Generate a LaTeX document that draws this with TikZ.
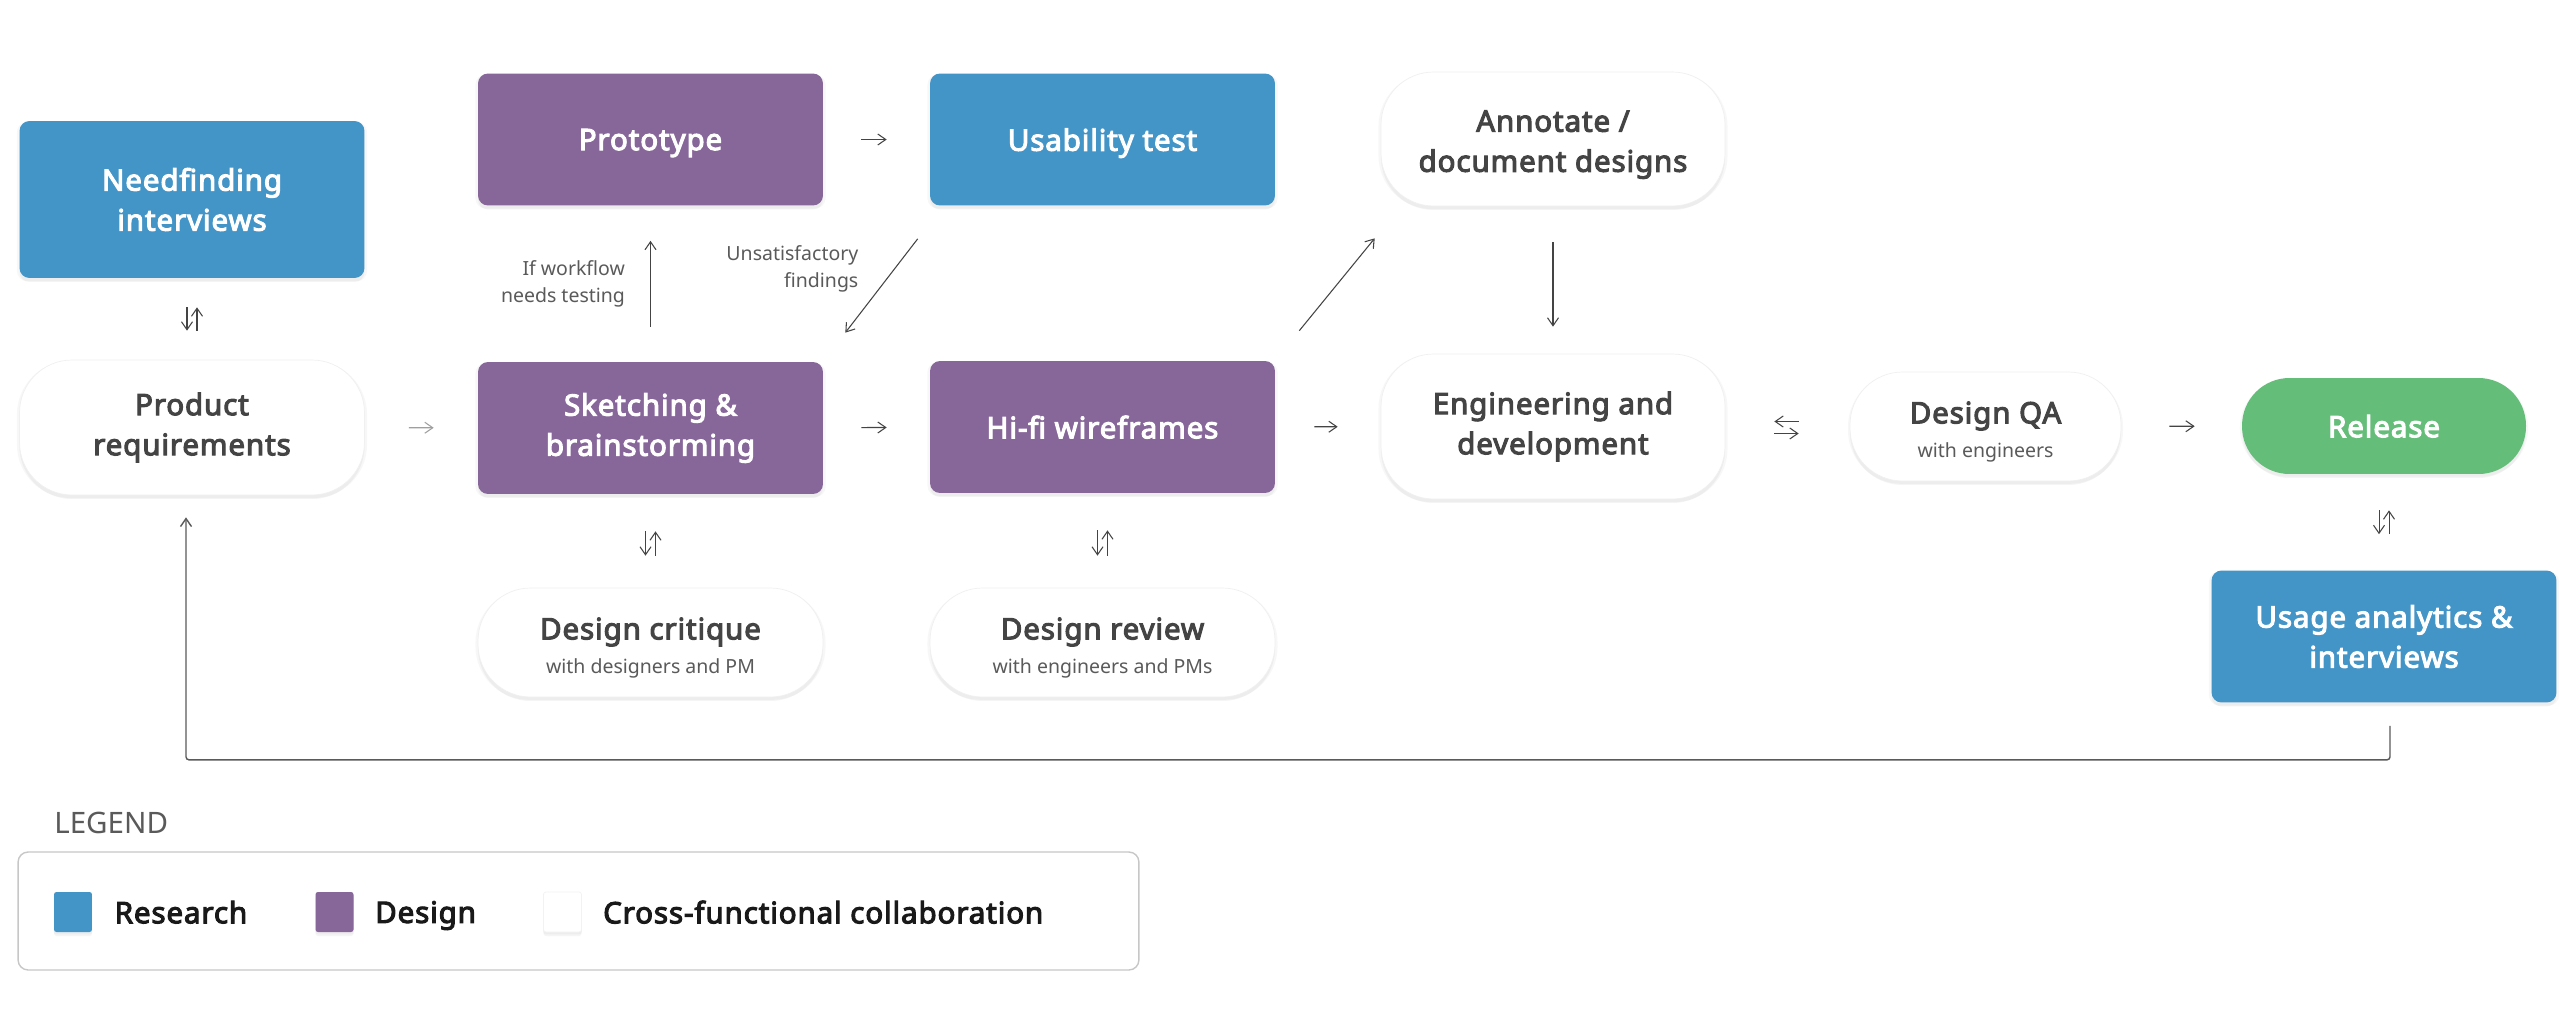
\documentclass[tikz,border=0pt]{standalone}
\usepackage{fontspec}
\setmainfont{Noto Sans}[BoldFont={Noto Sans}, BoldFeatures={FakeBold=3.6, LetterSpace=3}]
\usetikzlibrary{arrows.meta, calc, positioning, shadows}
\definecolor{figR}{RGB}{67,148,199}
\definecolor{figD}{RGB}{135,102,153}
\definecolor{figG}{RGB}{100,189,120}
\definecolor{figT}{RGB}{68,68,68}
\definecolor{figN}{RGB}{90,90,90}
\newcommand{\ttlfont}{\fontsize{16.8}{22.8}\selectfont\bfseries}
\newcommand{\subfont}{\fontsize{11.1}{15}\selectfont\mdseries\color{figN}}
\newcommand{\lowstrut}{\rule{0pt}{18.5pt}}
\tikzset{
  soft shadow/.style={drop shadow={opacity=0.06, shadow xshift=0cm, shadow yshift=-0.04cm, shadow scale=1.015},
    drop shadow={opacity=0.08, shadow xshift=0cm, shadow yshift=-0.08cm}},
  box/.style={rectangle, minimum width=6.9cm, minimum height=2.64cm, align=center, inner sep=0pt,
    font=\ttlfont, text=white, rounded corners=0.2cm, soft shadow},
  oneline/.style={text depth=0pt},
  research/.style={box, fill=figR},
  design/.style={box, fill=figD},
  collab/.style={box, fill=white, draw=black!6, text=figT, rounded corners=1.05cm},
  flow/.style={draw=figT, line width=0.6pt, -{Straight Barb[length=1.6mm, width=2.2mm]}},
  note/.style={font=\fontsize{11.1}{15.4}\selectfont, text=figN, align=right, inner sep=0pt},
  swatch/.style={rectangle, minimum width=0.76cm, minimum height=0.8cm, inner sep=0pt, rounded corners=0.05cm, soft shadow},
  legtext/.style={font=\ttlfont, text=black!90, inner sep=0pt, anchor=west, text depth=0pt}
}

\begin{document}
\begin{tikzpicture}[x=0.02cm, y=-0.02cm]
\path[fill=white, use as bounding box] (0,0) rectangle (2576,1028);
% first column: research and requirements
\node[research, minimum height=3.14cm] (need) at (192,199.5) {Needfinding\\interviews};
\node[collab, minimum height=2.7cm] (prod) at (192,427.5) {Product\\requirements};
% design loop
\node[design, oneline] (proto) at (650.5,139.5) {Prototype};
\node[research, oneline] (usab) at (1102.5,139.5) {Usability test};
\node[design] (sketch) at (650.5,428) {Sketching \&\\brainstorming};
\node[design, oneline] (hifi) at (1102.5,427) {Hi-fi wireframes};
\node[collab, minimum height=2.18cm] (crit) at (650.5,642.5) {\lowstrut Design critique\\[-3.4pt]{\subfont with designers and PM}};
\node[collab, minimum height=2.18cm] (review) at (1102.5,642.5) {\lowstrut Design review\\[-3.4pt]{\subfont with engineers and PMs}};
% build and ship
\node[collab, minimum width=6.88cm, minimum height=2.68cm] (annot) at (1553,139) {\lowstrut Annotate /\\document designs};
\node[collab, minimum width=6.88cm, minimum height=2.9cm] (eng) at (1553,426.5) {Engineering and\\development};
\node[collab, minimum width=5.42cm, minimum height=2.18cm] (qa) at (1985.5,426.5) {\lowstrut Design QA\\[-3.4pt]{\subfont with engineers}};
\node[box, oneline, fill=figG, minimum width=5.68cm, minimum height=1.92cm, rounded corners=0.95cm] (release) at (2384,426) {Release};
\node[research] (usage) at (2384,636.5) {Usage analytics \&\\interviews};
% straight flow
\draw[flow, draw=gray!75, shorten <=0.88cm, shorten >=0.88cm] (prod) -- (sketch);
\draw[flow, shorten <=0.76cm, shorten >=0.86cm] (sketch) -- (hifi);
\draw[flow, shorten <=0.76cm, shorten >=0.86cm] (proto) -- (usab);
\draw[flow, shorten <=0.78cm, shorten >=0.86cm] (hifi) -- (eng);
\draw[flow, shorten <=0.96cm, shorten >=0.94cm] (qa) -- (release);
\draw[flow, shorten <=0.7cm, shorten >=0.7cm] (sketch.north) -- (proto.south)
  node[note, midway, left=0.5cm] {If workflow\\needs testing};
\draw[flow, shorten <=0.72cm, shorten >=0.54cm] (annot.south) -- (eng.north);
\draw[flow] ($(usab.south west)+(-12,33)$) -- ($(sketch.north east)+(22,-29)$);
\node[note, anchor=east] (unsat) at ($(usab.south west)+(-71,63)$) {Unsatisfactory\\findings};
\draw[flow] ($(hifi.north east)+(24,-30)$) -- ($(annot.south west)+(-6,32)$);
% two-way exchanges
\draw[flow, shorten <=0.98cm, shorten >=1.02cm] ([yshift=-0.14cm]eng.east) -- ([yshift=-0.14cm]qa.west);
\draw[flow, shorten <=1.02cm, shorten >=0.98cm] ([yshift=0.1cm]qa.west) -- ([yshift=0.1cm]eng.east);
\draw[flow, shorten <=0.58cm, shorten >=0.58cm] ([xshift=-0.1cm]need.south) -- ([xshift=-0.1cm]prod.north);
\draw[flow, shorten <=0.58cm, shorten >=0.58cm] ([xshift=0.1cm]prod.north) -- ([xshift=0.1cm]need.south);
\draw[flow, shorten <=0.74cm, shorten >=0.64cm] ([xshift=-0.1cm]sketch.south) -- ([xshift=-0.1cm]crit.north);
\draw[flow, shorten <=0.64cm, shorten >=0.74cm] ([xshift=0.1cm]crit.north) -- ([xshift=0.1cm]sketch.south);
\draw[flow, shorten <=0.74cm, shorten >=0.64cm] ([xshift=-0.1cm]hifi.south) -- ([xshift=-0.1cm]review.north);
\draw[flow, shorten <=0.64cm, shorten >=0.74cm] ([xshift=0.1cm]review.north) -- ([xshift=0.1cm]hifi.south);
\draw[flow, shorten <=0.72cm, shorten >=0.72cm] ([xshift=-0.1cm]release.south) -- ([xshift=-0.1cm]usage.north);
\draw[flow, shorten <=0.72cm, shorten >=0.72cm] ([xshift=0.1cm]usage.north) -- ([xshift=0.1cm]release.south);
% feedback loop back to requirements
\draw[flow, draw=figN, line width=0.8pt, rounded corners=0.06cm, shorten <=0.46cm, shorten >=0.44cm]
  ([xshift=0.12cm]usage.south) -- ++(0,57) -| ([xshift=-0.12cm]prod.south);
% legend
\node[anchor=west, inner sep=0pt, font=\fontsize{16.8}{20}\selectfont, text=figN] (legtitle) at (54,823) {LEGEND};
\node[rectangle, draw=black!22, line width=0.8pt, rounded corners=0.2cm, minimum width=22.42cm, minimum height=2.36cm] (legend) at (578.5,911) {};
\node[swatch, fill=figR] (swR) at (73,912) {};
\node[legtext, right=0.44cm of swR] (legR) {Research};
\node[swatch, fill=figD] (swD) at (334.5,912) {};
\node[legtext, right=0.42cm of swD] (legD) {Design};
\node[swatch, fill=white, draw=black!5] (swC) at (562.5,912) {};
\node[legtext, right=0.42cm of swC] (legC) {Cross-functional collaboration};
\end{tikzpicture}
\end{document}
